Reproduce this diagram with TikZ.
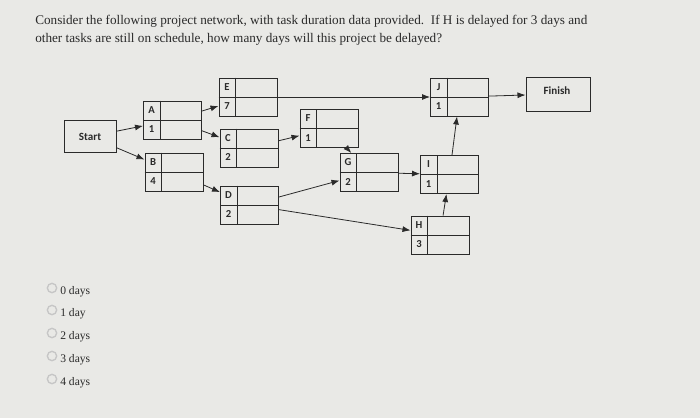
\documentclass[tikz,border=0pt]{standalone}
\usepackage{fontspec}
\setmainfont{Liberation Serif}
\newfontfamily\boxfont{Carlito}
\usetikzlibrary{calc,arrows.meta}
\definecolor{bg}{HTML}{E9E9E6}
\definecolor{ink}{HTML}{2A2A2A}
\tikzset{
 tb/.style={draw=ink,line width=0.75pt,minimum width=43.5pt,minimum height=28.5pt,inner sep=0pt},
 lbl/.style={font=\boxfont\bfseries\fontsize{8}{9}\selectfont,text=ink,inner sep=0pt},
 conn/.style={draw=ink,line width=0.6pt,-{Latex[length=6pt,width=4.5pt]}},
 opt/.style={anchor=west,font=\fontsize{8.7}{10}\selectfont,text=ink,inner sep=0pt},
 radio/.style={draw=gray!45,line width=1pt,circle,minimum size=7pt,inner sep=0pt,fill=bg}
}
\newcommand{\taskbox}[4]{%
 \node[tb] (#1) at (#2) {};
 \draw[ink,line width=0.75pt] ($(#1.north west)+(12.75pt,0)$) -- ($(#1.south west)+(12.75pt,0)$);
 \draw[ink,line width=0.75pt] (#1.west) -- (#1.east);
 \node[lbl] (#1l) at ($(#1.north west)+(6.4pt,-7.1pt)$) {#3};
 \node[lbl] (#1n) at ($(#1.west)+(6.4pt,-7.1pt)$) {#4};
}
\begin{document}
\begin{tikzpicture}[x=0.75pt,y=-0.75pt]
\fill[bg] (0,0) rectangle (700,418);
\useasboundingbox (0,0) rectangle (700,418);
\node[anchor=north west,align=left,text=ink,font=\fontsize{9.9}{13.8}\selectfont,inner sep=0pt] (q) at (35,15)
 {Consider the following project network, with task duration data provided.\ \ If H is delayed for 3 days and\\
 other tasks are still on schedule, how many days will this project be delayed?};
\node[draw=ink,line width=0.75pt,minimum width=39pt,minimum height=23.5pt,font=\boxfont\bfseries\fontsize{8.3}{9}\selectfont,text=ink] (Start) at (90,136.5) {Start};
\node[draw=ink,line width=0.75pt,minimum width=48pt,minimum height=25.5pt] (Finish) at (558,94) {};
\node[font=\boxfont\bfseries\fontsize{8.3}{9}\selectfont,text=ink] (Fin) at (557,91) {Finish};
\taskbox{A}{172.5,120}{A}{1}
\taskbox{B}{174,172}{B}{4}
\taskbox{E}{248,97}{E}{7}
\taskbox{C}{249,148}{C}{2}
\taskbox{D}{249.5,205}{D}{2}
\taskbox{F}{329,128.5}{F}{1}
\taskbox{G}{369,172.5}{G}{2}
\taskbox{I}{449.5,174.5}{I}{1}
\taskbox{H}{440,235}{H}{3}
\taskbox{J}{459.5,97}{J}{1}
\draw[conn] (Start) -- (A);
\draw[conn] (Start) -- (B);
\draw[conn] (A) -- (E);
\draw[conn] (A) -- (C);
\draw[conn] (C) -- (F);
\draw[conn] (B) -- (D);
\draw[conn] (F) -- (G);
\draw[conn] (D) -- (G);
\draw[conn] (D) -- (H);
\draw[conn] (G) -- (I);
\draw[conn] (H) -- (I);
\draw[conn] (I) -- (J);
\draw[conn] (E) -- (J);
\draw[conn] (J) -- (Finish);
\foreach \i/\t/\yy in {1/0 days/292,2/1 day/314,3/2 days/337,4/3 days/360,5/4 days/383}{
 \node[radio] (r\i) at (52,\yy-4) {};
 \node[opt] (o\i) at (60,\yy) {\t};
}
\end{tikzpicture}
\end{document}
